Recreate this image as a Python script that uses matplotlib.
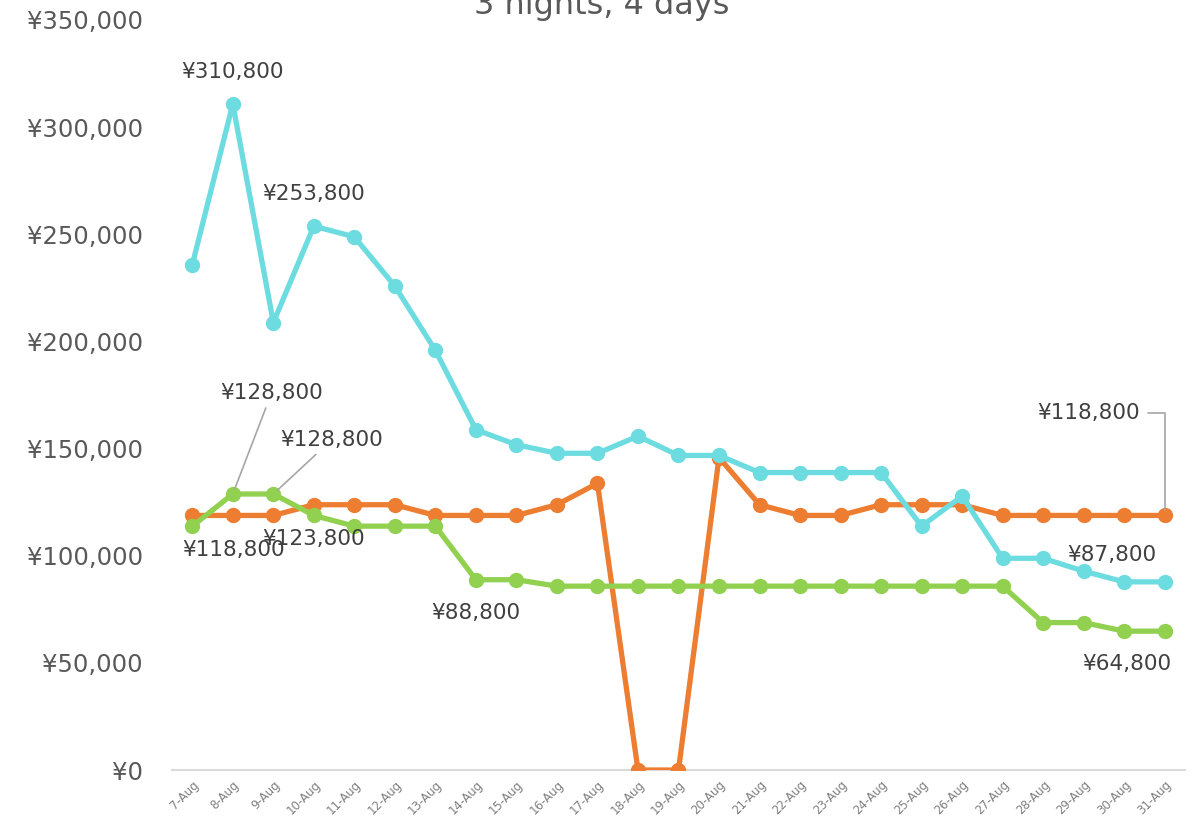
import matplotlib
matplotlib.use("Agg")
import matplotlib.pyplot as plt
from matplotlib.ticker import FuncFormatter

# ─── Data ─────────────────────────────────────────────────────────────────────
dates = ["7-Aug", "8-Aug", "9-Aug", "10-Aug", "11-Aug", "12-Aug", "13-Aug",
         "14-Aug", "15-Aug", "16-Aug", "17-Aug", "18-Aug", "19-Aug", "20-Aug",
         "21-Aug", "22-Aug", "23-Aug", "24-Aug", "25-Aug", "26-Aug", "27-Aug",
         "28-Aug", "29-Aug", "30-Aug", "31-Aug"]

cyan_prices = [235800, 310800, 208800, 253800, 248800, 225800, 195800,
               158800, 151800, 147800, 147800, 155800, 146800, 146800,
               138800, 138800, 138800, 138800, 113800, 127800, 98800,
               98800, 92800, 87800, 87800]

orange_prices = [118800, 118800, 118800, 123800, 123800, 123800, 118800,
                 118800, 118800, 123800, 133800, 0, 0, 145800,
                 123800, 118800, 118800, 123800, 123800, 123800, 118800,
                 118800, 118800, 118800, 118800]

green_prices = [113800, 128800, 128800, 118800, 113800, 113800, 113800,
                88800, 88800, 85800, 85800, 85800, 85800, 85800,
                85800, 85800, 85800, 85800, 85800, 85800, 85800,
                68800, 68800, 64800, 64800]

# ─── Style ────────────────────────────────────────────────────────────────────
CYAN = "#6DDCE0"
ORANGE = "#ED7D31"
GREEN = "#92D050"
TEXT = "#404040"
TICK = "#595959"
LEADER = "#A6A6A6"

plt.rcParams["font.family"] = ["DejaVu Sans"]

fig = plt.figure(figsize=(12.03, 8.19), dpi=100)
ax = fig.add_axes([0.143, 0.0598, 0.842, 0.9158])

x = list(range(len(dates)))
for ys, col in [(orange_prices, ORANGE), (green_prices, GREEN), (cyan_prices, CYAN)]:
    ax.plot(x, ys, color=col, lw=3.8, marker="o", ms=10, zorder=3,
            solid_capstyle="round")

ax.set_xlim(-0.5, len(dates) - 0.5)
ax.set_ylim(0, 350000)
ax.set_yticks(range(0, 350001, 50000))
ax.yaxis.set_major_formatter(FuncFormatter(lambda v, p: f"¥{int(v):,}"))
ax.set_xticks(x)
ax.set_xticklabels(dates, rotation=45, ha="right", rotation_mode="anchor",
                   fontsize=8.5, color="#7F7F7F")
ax.tick_params(axis="y", labelsize=17.5, colors=TICK, length=0, pad=21)
ax.tick_params(axis="x", length=0, pad=6)

for s in ["top", "right", "left"]:
    ax.spines[s].set_visible(False)
ax.spines["bottom"].set_color("#D9D9D9")
ax.spines["bottom"].set_linewidth(1.5)

fig.text(0.5, 1 - 14 / 819, "3 nights, 4 days", ha="center", va="baseline",
         fontsize=23, color=TICK)

# ─── Data labels ─────────────────────────────────────────────────────────────
def label(series, i, dx, dy, leader=False, ha="center"):
    v = series[i]
    props = None
    if leader:
        props = dict(arrowstyle="-", color=LEADER, lw=1.2, shrinkA=2, shrinkB=4)
    ax.annotate(f"¥{v:,}", xy=(i, v), xytext=(dx, dy), textcoords="offset points",
                ha=ha, va="center", fontsize=15.5, color=TEXT,
                arrowprops=props, zorder=5)

label(cyan_prices, 1, 0, 23)
label(cyan_prices, 3, 0, 23)
label(green_prices, 1, 28, 73, leader=True)
label(green_prices, 2, 42, 39, leader=True)
label(orange_prices, 0, 30, -25)
label(orange_prices, 3, 0, -25)
label(green_prices, 7, 0, -24)
label(cyan_prices, 24, -38, 19)
label(green_prices, 24, -27, -24)

# last orange point: label up-left with elbow leader
ov = orange_prices[-1]
ax.annotate(f"¥{ov:,}", xy=(24, ov), xytext=(-18, 74), textcoords="offset points",
            ha="right", va="center", fontsize=15.5, color=TEXT, zorder=5,
            arrowprops=dict(arrowstyle="-", color=LEADER, lw=1.2,
                            connectionstyle="angle,angleA=0,angleB=90,rad=0",
                            shrinkA=4, shrinkB=4))

fig.savefig("out.png", dpi=100, facecolor="white")
